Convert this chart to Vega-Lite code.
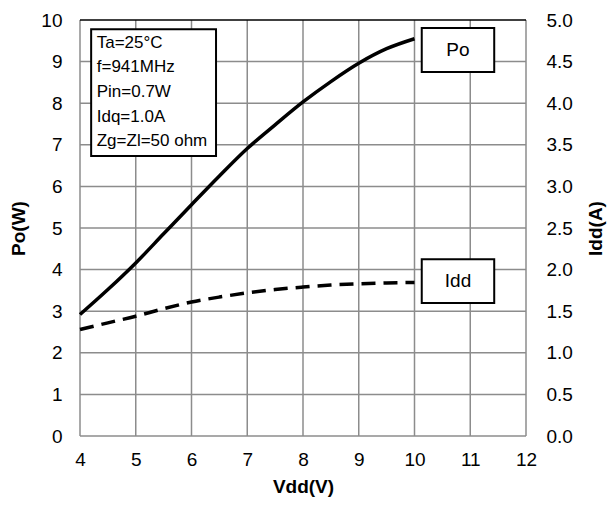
{
  "$schema": "https://vega.github.io/schema/vega-lite/v6.json",
  "width": 446,
  "height": 416,
  "autosize": {"type": "none"},
  "padding": {"left": 80, "top": 20, "right": 88, "bottom": 71},
  "background": "white",
  "config": {
    "font": "Liberation Sans",
    "view": {"stroke": null},
    "axis": {
      "domain": false,
      "grid": false,
      "ticks": false,
      "labelFlush": false,
      "labelColor": "black",
      "labelFontSize": 19,
      "labelFont": "Liberation Sans",
      "titleFont": "Liberation Sans",
      "titleFontSize": 19,
      "titleFontWeight": "bold",
      "titleColor": "black"
    }
  },
  "datasets": {
    "curves": [
      {"Vdd": 4.0, "Po": 2.92, "Idd": 1.28},
      {"Vdd": 4.5, "Po": 3.52, "Idd": 1.36},
      {"Vdd": 5.0, "Po": 4.16, "Idd": 1.44},
      {"Vdd": 5.5, "Po": 4.86, "Idd": 1.53},
      {"Vdd": 6.0, "Po": 5.56, "Idd": 1.61},
      {"Vdd": 6.5, "Po": 6.25, "Idd": 1.67},
      {"Vdd": 7.0, "Po": 6.91, "Idd": 1.72},
      {"Vdd": 7.5, "Po": 7.48, "Idd": 1.76},
      {"Vdd": 8.0, "Po": 8.03, "Idd": 1.79},
      {"Vdd": 8.5, "Po": 8.52, "Idd": 1.815},
      {"Vdd": 9.0, "Po": 8.96, "Idd": 1.83},
      {"Vdd": 9.5, "Po": 9.31, "Idd": 1.84},
      {"Vdd": 10.0, "Po": 9.55, "Idd": 1.845}
    ],
    "vgrid": [{"g": 4}, {"g": 5}, {"g": 6}, {"g": 7}, {"g": 8}, {"g": 9}, {"g": 10}, {"g": 11}, {"g": 12}],
    "hgrid": [{"g": 0}, {"g": 1}, {"g": 2}, {"g": 3}, {"g": 4}, {"g": 5}, {"g": 6}, {"g": 7}, {"g": 8}, {"g": 9}],
    "top": [{"g": 10}],
    "boxes": [
      {"bx1": 4.2, "bx2": 6.44, "by1": 9.78, "by2": 6.73},
      {"bx1": 10.13, "bx2": 11.43, "by1": 9.81, "by2": 8.75},
      {"bx1": 10.13, "bx2": 11.43, "by1": 4.25, "by2": 3.2}
    ],
    "info": [
      {"x": 4.3, "y": 9.45, "t": "Ta=25°C"},
      {"x": 4.3, "y": 8.87, "t": "f=941MHz"},
      {"x": 4.3, "y": 8.28, "t": "Pin=0.7W"},
      {"x": 4.3, "y": 7.68, "t": "Idq=1.0A"},
      {"x": 4.3, "y": 7.1, "t": "Zg=Zl=50 ohm"}
    ],
    "tags": [
      {"x": 10.78, "y": 9.28, "t": "Po"},
      {"x": 10.78, "y": 3.72, "t": "Idd"}
    ]
  },
  "layer": [
    {
      "layer": [
        {
          "data": {"name": "vgrid"},
          "mark": {"type": "rule", "stroke": "#8c8c8c", "strokeWidth": 1.5, "opacity": 1},
          "encoding": {
            "x": {"field": "g", "type": "quantitative", "scale": {"domain": [4, 12], "nice": false, "zero": false},
              "axis": {"title": "Vdd(V)", "values": [4, 5, 6, 7, 8, 9, 10, 11, 12], "format": "d", "labelPadding": 14, "titlePadding": 8}}
          }
        },
        {
          "data": {"name": "hgrid"},
          "mark": {"type": "rule", "stroke": "#8c8c8c", "strokeWidth": 1.5, "opacity": 1},
          "encoding": {
            "y": {"field": "g", "type": "quantitative", "scale": {"domain": [0, 10], "nice": false},
              "axis": {"title": "Po(W)", "values": [0, 1, 2, 3, 4, 5, 6, 7, 8, 9, 10], "format": "d", "labelPadding": 18, "titlePadding": 12}}
          }
        },
        {
          "data": {"name": "top"},
          "mark": {"type": "rule", "stroke": "black", "strokeWidth": 1.3},
          "encoding": {
            "y": {"field": "g", "type": "quantitative", "scale": {"domain": [0, 10], "nice": false},
              "axis": {"title": "Po(W)", "values": [0, 1, 2, 3, 4, 5, 6, 7, 8, 9, 10], "format": "d", "labelPadding": 18, "titlePadding": 12}}
          }
        },
        {
          "data": {"name": "curves"},
          "mark": {"type": "line", "interpolate": "monotone", "color": "black", "strokeWidth": 3.5},
          "encoding": {
            "x": {"field": "Vdd", "type": "quantitative", "scale": {"domain": [4, 12], "nice": false, "zero": false},
              "axis": {"title": "Vdd(V)", "values": [4, 5, 6, 7, 8, 9, 10, 11, 12], "format": "d", "labelPadding": 14, "titlePadding": 8}},
            "y": {"field": "Po", "type": "quantitative", "scale": {"domain": [0, 10], "nice": false},
              "axis": {"title": "Po(W)", "values": [0, 1, 2, 3, 4, 5, 6, 7, 8, 9, 10], "format": "d", "labelPadding": 18, "titlePadding": 12}}
          }
        },
        {
          "data": {"name": "boxes"},
          "mark": {"type": "rect", "fill": "white", "stroke": "black", "strokeWidth": 2},
          "encoding": {
            "x": {"field": "bx1", "type": "quantitative", "scale": {"domain": [4, 12], "nice": false, "zero": false},
              "axis": {"title": "Vdd(V)", "values": [4, 5, 6, 7, 8, 9, 10, 11, 12], "format": "d", "labelPadding": 14, "titlePadding": 8}},
            "x2": {"field": "bx2"},
            "y": {"field": "by1", "type": "quantitative", "scale": {"domain": [0, 10], "nice": false},
              "axis": {"title": "Po(W)", "values": [0, 1, 2, 3, 4, 5, 6, 7, 8, 9, 10], "format": "d", "labelPadding": 18, "titlePadding": 12}},
            "y2": {"field": "by2"}
          }
        },
        {
          "data": {"name": "info"},
          "mark": {"type": "text", "align": "left", "baseline": "middle", "fontSize": 17, "font": "Liberation Sans", "color": "black"},
          "encoding": {
            "x": {"field": "x", "type": "quantitative", "scale": {"domain": [4, 12], "nice": false, "zero": false},
              "axis": {"title": "Vdd(V)", "values": [4, 5, 6, 7, 8, 9, 10, 11, 12], "format": "d", "labelPadding": 14, "titlePadding": 8}},
            "y": {"field": "y", "type": "quantitative", "scale": {"domain": [0, 10], "nice": false},
              "axis": {"title": "Po(W)", "values": [0, 1, 2, 3, 4, 5, 6, 7, 8, 9, 10], "format": "d", "labelPadding": 18, "titlePadding": 12}},
            "text": {"field": "t"}
          }
        },
        {
          "data": {"name": "tags"},
          "mark": {"type": "text", "align": "center", "baseline": "middle", "fontSize": 19, "font": "Liberation Sans", "color": "black"},
          "encoding": {
            "x": {"field": "x", "type": "quantitative", "scale": {"domain": [4, 12], "nice": false, "zero": false},
              "axis": {"title": "Vdd(V)", "values": [4, 5, 6, 7, 8, 9, 10, 11, 12], "format": "d", "labelPadding": 14, "titlePadding": 8}},
            "y": {"field": "y", "type": "quantitative", "scale": {"domain": [0, 10], "nice": false},
              "axis": {"title": "Po(W)", "values": [0, 1, 2, 3, 4, 5, 6, 7, 8, 9, 10], "format": "d", "labelPadding": 18, "titlePadding": 12}},
            "text": {"field": "t"}
          }
        }
      ]
    },
    {
      "data": {"name": "curves"},
      "mark": {"type": "line", "interpolate": "monotone", "color": "black", "strokeWidth": 3.5, "strokeDash": [14, 8]},
      "encoding": {
        "x": {"field": "Vdd", "type": "quantitative", "scale": {"domain": [4, 12], "nice": false, "zero": false},
          "axis": {"title": "Vdd(V)", "values": [4, 5, 6, 7, 8, 9, 10, 11, 12], "format": "d", "labelPadding": 14, "titlePadding": 8}},
        "y": {
          "field": "Idd", "type": "quantitative",
          "scale": {"domain": [0, 5], "nice": false},
          "axis": {"orient": "right", "title": "Idd(A)", "values": [0, 0.5, 1, 1.5, 2, 2.5, 3, 3.5, 4, 4.5, 5], "format": ".1f", "labelPadding": 20, "titlePadding": 14, "titleAngle": 270, "titleBaseline": "top"}
        }
      }
    }
  ],
  "resolve": {"scale": {"y": "independent"}}
}
